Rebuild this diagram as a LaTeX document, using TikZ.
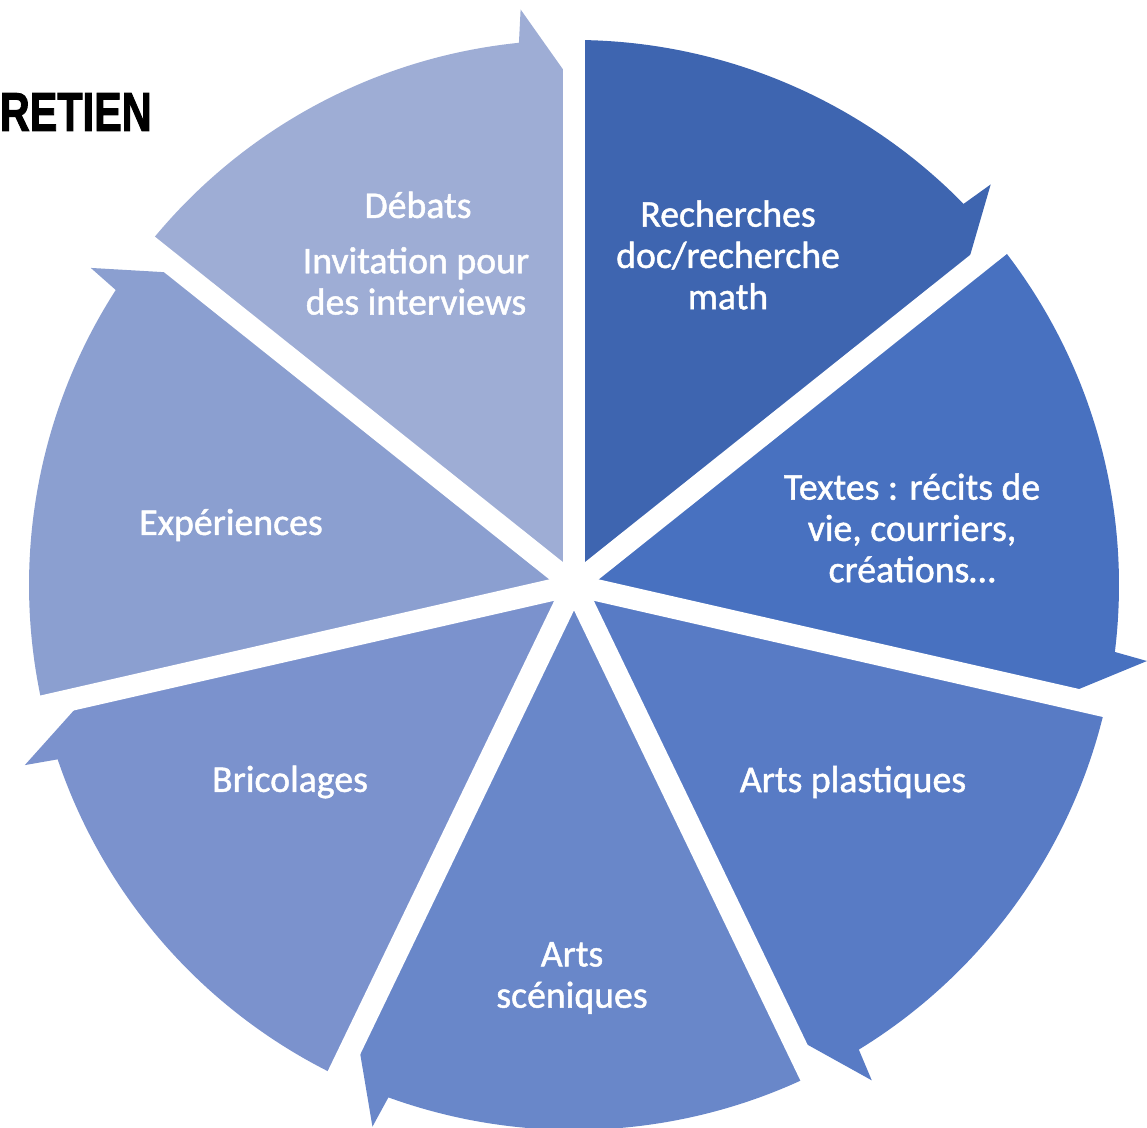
\documentclass[tikz,border=0pt]{standalone}
\usepackage{fontspec}
\usepackage{graphicx}
\setmainfont{Carlito}
\newfontfamily\labelfont{Carlito}[RawFeature={embolden=1.2}]
\newfontfamily\titlefont{Liberation Sans}[RawFeature={embolden=2}]

\definecolor{segrech}{RGB}{62, 101, 176}
\definecolor{segtext}{RGB}{72, 113, 192}
\definecolor{segplast}{RGB}{88, 123, 197}
\definecolor{segscen}{RGB}{105, 135, 201}
\definecolor{segbrico}{RGB}{123, 146, 205}
\definecolor{segexp}{RGB}{139, 159, 208}
\definecolor{segdeb}{RGB}{158, 173, 213}

\begin{document}
\begin{tikzpicture}[x=0.02cm, y=0.02cm,
    label/.style={text=white, align=center, font=\labelfont\fontsize{21.5}{23.5}\selectfont},
    gap/.style={draw=white, line width=0.44cm}]
    \useasboundingbox (0,0) rectangle (1147,1128);

    % Title, at the left edge
    \node[anchor=east, inner sep=0pt] (title) at (152,1016)
        {\titlefont\bfseries\fontsize{31}{31}\selectfont\scalebox{0.76}[1]{RETIEN}};

    \begin{scope}[shift={(574,543)}]
    % Recherches
    \fill[segrech] (0,0) -- (90:545) arc[start angle=90, end angle=44.37, radius=545]
        -- (43.87:578) -- (38.57:500) -- cycle;
    % Textes
    \fill[segtext] (0,0) -- (38.57:545) arc[start angle=38.57, end angle=-7.06, radius=545]
        -- (-7.56:578) -- (-12.86:500) -- cycle;
    % Arts plastiques
    \fill[segplast] (0,0) -- (-12.86:545) arc[start angle=-12.86, end angle=-58.49, radius=545]
        -- (-58.99:578) -- (-64.29:500) -- cycle;
    % Arts sceniques
    \fill[segscen] (0,0) -- (-64.29:545) arc[start angle=-64.29, end angle=-109.91, radius=545]
        -- (-110.41:578) -- (-115.71:500) -- cycle;
    % Bricolages
    \fill[segbrico] (0,0) -- (-115.71:545) arc[start angle=-115.71, end angle=-161.34, radius=545]
        -- (-161.84:578) -- (-167.14:500) -- cycle;
    % Experiences
    \fill[segexp] (0,0) -- (-167.14:545) arc[start angle=-167.14, end angle=-212.77, radius=545]
        -- (-213.27:578) -- (-218.57:500) -- cycle;
    % Debats
    \fill[segdeb] (0,0) -- (141.43:545) arc[start angle=141.43, end angle=95.8, radius=545]
        -- (95.3:578) -- (90:500) -- cycle;

    % White gaps between the segments
    \draw[gap] (0,0) -- (90:620);
    \draw[gap] (0,0) -- (38.57:620);
    \draw[gap] (0,0) -- (-12.86:620);
    \draw[gap] (0,0) -- (-64.29:620);
    \draw[gap] (0,0) -- (-115.71:620);
    \draw[gap] (0,0) -- (-167.14:620);
    \draw[gap] (0,0) -- (141.43:620);
    \end{scope}

    % Labels
    \node[label] (recherches) at (728,873) {Recherches\\doc/recherche\\math};
    \node[label] (textes) at (912,600) {Textes : récits de\\vie, courriers,\\créations…};
    \node[label] (plastiques) at (853,346) {Arts plastiques};
    \node[label] (sceniques) at (572,150) {Arts\\scéniques};
    \node[label] (bricolages) at (290,346) {Bricolages};
    \node[label] (experiences) at (231,603) {Expériences};
    \node[label] (debats) at (418,923) {Débats};
    \node[label] (invitation) at (416,847) {Invitation pour\\des interviews};
\end{tikzpicture}
\end{document}
